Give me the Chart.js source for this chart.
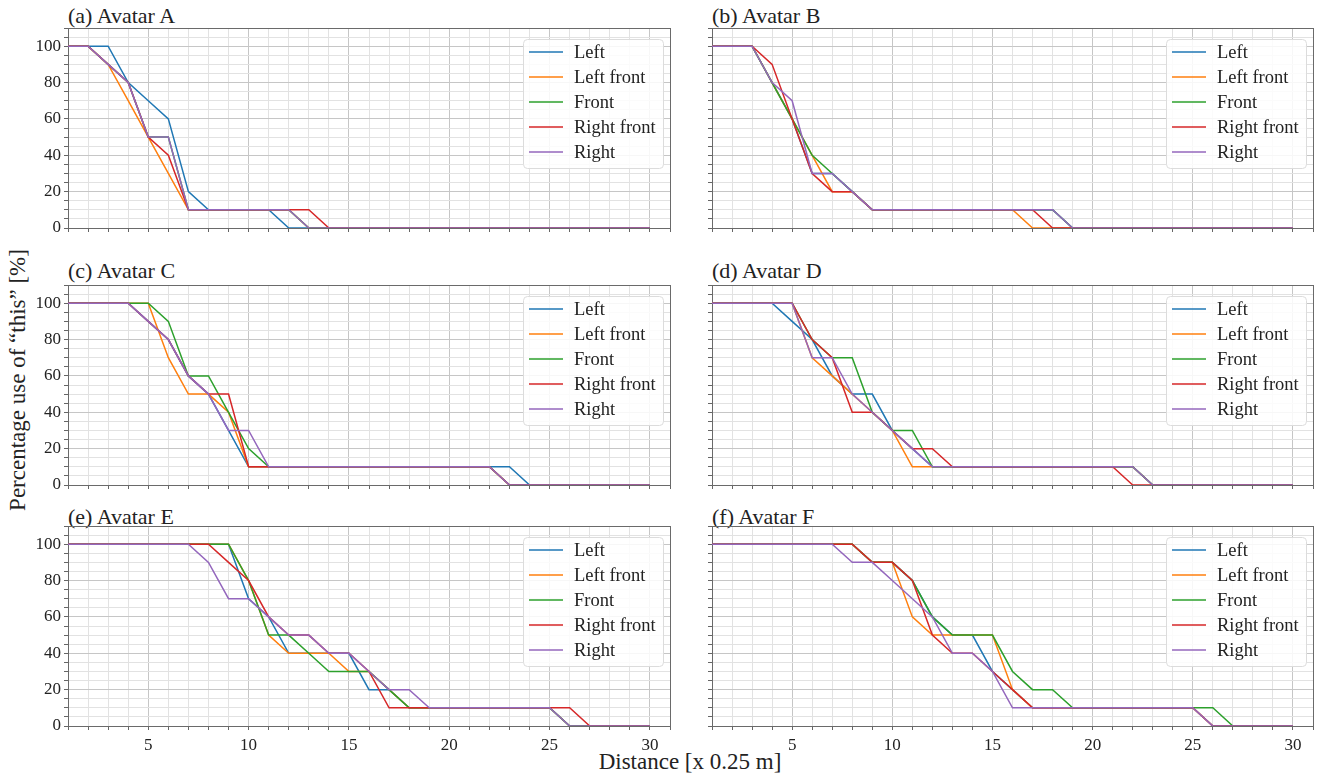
<!DOCTYPE html>
<html>
<head>
<meta charset="utf-8">
<script src="https://cdn.jsdelivr.net/npm/chart.js@4.4.0/dist/chart.umd.min.js"></script>
<style>
 body { margin: 0; background: #fff; width: 1319px; height: 776px; position: relative; overflow: hidden; font-family: "Liberation Serif", serif; color: #222; }
 canvas { position: absolute; }
 .ttl { position: absolute; font-size: 22px; line-height: 22px; white-space: nowrap; }
 #ylab { position: absolute; left: 18px; top: 380px; font-size: 23px; white-space: nowrap; transform: translate(-50%, -50%) rotate(-90deg); }
 #xlab { position: absolute; left: 690px; top: 762px; font-size: 23px; white-space: nowrap; transform: translate(-50%, -50%); }
</style>
</head>
<body>
<div class="ttl" style="left:68px;top:5px">(a) Avatar A</div>
<div class="ttl" style="left:712px;top:5px">(b) Avatar B</div>
<div class="ttl" style="left:68px;top:260px">(c) Avatar C</div>
<div class="ttl" style="left:712px;top:260px">(d) Avatar D</div>
<div class="ttl" style="left:68px;top:506px">(e) Avatar E</div>
<div class="ttl" style="left:712px;top:506px">(f) Avatar F</div>
<div id="ylab">Percentage use of “this” [%]</div>
<div id="xlab">Distance [x 0.25 m]</div>

<canvas id="chartA"></canvas>
<canvas id="chartB"></canvas>
<canvas id="chartC"></canvas>
<canvas id="chartD"></canvas>
<canvas id="chartE"></canvas>
<canvas id="chartF"></canvas>

<script>
// distance steps (x 0.25 m)
var distance = [1, 2, 3, 4, 5, 6, 7, 8, 9, 10, 11, 12, 13, 14, 15, 16, 17, 18, 19, 20, 21, 22, 23, 24, 25, 26, 27, 28, 29, 30];

var seriesNames = ["Left", "Left front", "Front", "Right front", "Right"];
var seriesColors = ["#1f77b4", "#ff7f0e", "#2ca02c", "#d62728", "#9467bd"];

var yTicks = [0, 20, 40, 60, 80, 100];
var xTicks = [5, 10, 15, 20, 25, 30];

// (a) Avatar A
var avatarA_left       = [100, 100, 100, 80, 70, 60, 20, 10, 10, 10, 10, 0, 0, 0, 0, 0, 0, 0, 0, 0, 0, 0, 0, 0, 0, 0, 0, 0, 0, 0];
var avatarA_leftFront  = [100, 100, 90, 70, 50, 30, 10, 10, 10, 10, 10, 10, 0, 0, 0, 0, 0, 0, 0, 0, 0, 0, 0, 0, 0, 0, 0, 0, 0, 0];
var avatarA_front      = [100, 100, 90, 80, 50, 50, 10, 10, 10, 10, 10, 10, 0, 0, 0, 0, 0, 0, 0, 0, 0, 0, 0, 0, 0, 0, 0, 0, 0, 0];
var avatarA_rightFront = [100, 100, 90, 80, 50, 40, 10, 10, 10, 10, 10, 10, 10, 0, 0, 0, 0, 0, 0, 0, 0, 0, 0, 0, 0, 0, 0, 0, 0, 0];
var avatarA_right      = [100, 100, 90, 80, 50, 50, 10, 10, 10, 10, 10, 10, 0, 0, 0, 0, 0, 0, 0, 0, 0, 0, 0, 0, 0, 0, 0, 0, 0, 0];

// (b) Avatar B
var avatarB_left       = [100, 100, 100, 80, 60, 30, 30, 20, 10, 10, 10, 10, 10, 10, 10, 10, 10, 10, 0, 0, 0, 0, 0, 0, 0, 0, 0, 0, 0, 0];
var avatarB_leftFront  = [100, 100, 100, 80, 60, 40, 20, 20, 10, 10, 10, 10, 10, 10, 10, 10, 0, 0, 0, 0, 0, 0, 0, 0, 0, 0, 0, 0, 0, 0];
var avatarB_front      = [100, 100, 100, 80, 60, 40, 30, 20, 10, 10, 10, 10, 10, 10, 10, 10, 10, 10, 0, 0, 0, 0, 0, 0, 0, 0, 0, 0, 0, 0];
var avatarB_rightFront = [100, 100, 100, 90, 60, 30, 20, 20, 10, 10, 10, 10, 10, 10, 10, 10, 10, 0, 0, 0, 0, 0, 0, 0, 0, 0, 0, 0, 0, 0];
var avatarB_right      = [100, 100, 100, 80, 70, 30, 30, 20, 10, 10, 10, 10, 10, 10, 10, 10, 10, 10, 0, 0, 0, 0, 0, 0, 0, 0, 0, 0, 0, 0];

// (c) Avatar C
var avatarC_left       = [100, 100, 100, 100, 90, 80, 60, 50, 30, 10, 10, 10, 10, 10, 10, 10, 10, 10, 10, 10, 10, 10, 10, 0, 0, 0, 0, 0, 0, 0];
var avatarC_leftFront  = [100, 100, 100, 100, 100, 70, 50, 50, 40, 10, 10, 10, 10, 10, 10, 10, 10, 10, 10, 10, 10, 10, 0, 0, 0, 0, 0, 0, 0, 0];
var avatarC_front      = [100, 100, 100, 100, 100, 90, 60, 60, 40, 20, 10, 10, 10, 10, 10, 10, 10, 10, 10, 10, 10, 10, 0, 0, 0, 0, 0, 0, 0, 0];
var avatarC_rightFront = [100, 100, 100, 100, 90, 80, 60, 50, 50, 10, 10, 10, 10, 10, 10, 10, 10, 10, 10, 10, 10, 10, 0, 0, 0, 0, 0, 0, 0, 0];
var avatarC_right      = [100, 100, 100, 100, 90, 80, 60, 50, 30, 30, 10, 10, 10, 10, 10, 10, 10, 10, 10, 10, 10, 10, 0, 0, 0, 0, 0, 0, 0, 0];

// (d) Avatar D
var avatarD_left       = [100, 100, 100, 100, 90, 80, 60, 50, 50, 30, 20, 10, 10, 10, 10, 10, 10, 10, 10, 10, 10, 10, 0, 0, 0, 0, 0, 0, 0, 0];
var avatarD_leftFront  = [100, 100, 100, 100, 100, 70, 60, 50, 40, 30, 10, 10, 10, 10, 10, 10, 10, 10, 10, 10, 10, 10, 0, 0, 0, 0, 0, 0, 0, 0];
var avatarD_front      = [100, 100, 100, 100, 100, 80, 70, 70, 40, 30, 30, 10, 10, 10, 10, 10, 10, 10, 10, 10, 10, 10, 0, 0, 0, 0, 0, 0, 0, 0];
var avatarD_rightFront = [100, 100, 100, 100, 100, 80, 70, 40, 40, 30, 20, 20, 10, 10, 10, 10, 10, 10, 10, 10, 10, 0, 0, 0, 0, 0, 0, 0, 0, 0];
var avatarD_right      = [100, 100, 100, 100, 100, 70, 70, 50, 40, 30, 20, 10, 10, 10, 10, 10, 10, 10, 10, 10, 10, 10, 0, 0, 0, 0, 0, 0, 0, 0];

// (e) Avatar E
var avatarE_left       = [100, 100, 100, 100, 100, 100, 100, 100, 100, 70, 60, 40, 40, 40, 40, 20, 20, 10, 10, 10, 10, 10, 10, 10, 10, 0, 0, 0, 0, 0];
var avatarE_leftFront  = [100, 100, 100, 100, 100, 100, 100, 100, 100, 80, 50, 40, 40, 40, 30, 30, 20, 10, 10, 10, 10, 10, 10, 10, 10, 0, 0, 0, 0, 0];
var avatarE_front      = [100, 100, 100, 100, 100, 100, 100, 100, 100, 80, 50, 50, 40, 30, 30, 30, 20, 10, 10, 10, 10, 10, 10, 10, 10, 0, 0, 0, 0, 0];
var avatarE_rightFront = [100, 100, 100, 100, 100, 100, 100, 100, 90, 80, 60, 50, 50, 40, 40, 30, 10, 10, 10, 10, 10, 10, 10, 10, 10, 10, 0, 0, 0, 0];
var avatarE_right      = [100, 100, 100, 100, 100, 100, 100, 90, 70, 70, 60, 50, 50, 40, 40, 30, 20, 20, 10, 10, 10, 10, 10, 10, 10, 0, 0, 0, 0, 0];

// (f) Avatar F
var avatarF_left       = [100, 100, 100, 100, 100, 100, 100, 100, 90, 90, 80, 60, 50, 50, 30, 20, 10, 10, 10, 10, 10, 10, 10, 10, 10, 0, 0, 0, 0, 0];
var avatarF_leftFront  = [100, 100, 100, 100, 100, 100, 100, 100, 90, 90, 60, 50, 50, 50, 50, 20, 10, 10, 10, 10, 10, 10, 10, 10, 10, 0, 0, 0, 0, 0];
var avatarF_front      = [100, 100, 100, 100, 100, 100, 100, 100, 90, 90, 80, 60, 50, 50, 50, 30, 20, 20, 10, 10, 10, 10, 10, 10, 10, 10, 0, 0, 0, 0];
var avatarF_rightFront = [100, 100, 100, 100, 100, 100, 100, 100, 90, 90, 80, 50, 40, 40, 30, 20, 10, 10, 10, 10, 10, 10, 10, 10, 10, 0, 0, 0, 0, 0];
var avatarF_right      = [100, 100, 100, 100, 100, 100, 100, 90, 90, 80, 70, 60, 40, 40, 30, 10, 10, 10, 10, 10, 10, 10, 10, 10, 10, 0, 0, 0, 0, 0];

Chart.defaults.font.family = "'Liberation Serif', 'Times New Roman', serif";
Chart.defaults.color = "#222";

var cols = [{ left: 68, right: 670, yW: 45 }, { left: 712, right: 1313, yW: 6 }];
var rows = [{ top: 28, bottom: 228, xH: 6 }, { top: 285, bottom: 485, xH: 6 }, { top: 526, bottom: 726, xH: 32 }];
var padTop = 5, padRight = 5;

var minorGrid = "#e2e2e2";
var majorGrid = "#c6c6c6";

// box round the plot area (matplotlib style spines)
var framePlugin = {
 id: "frame",
 beforeDatasetsDraw: function (chart) {
  var a = chart.chartArea, ctx = chart.ctx;
  ctx.save();
  ctx.strokeStyle = "#6a6a6a";
  ctx.lineWidth = 1;
  ctx.strokeRect(Math.round(a.left) + 0.5, Math.round(a.top) + 0.5, Math.round(a.right - a.left), Math.round(a.bottom - a.top));
  ctx.restore();
 },
};

// legend in upper right of the plot area
var legendPlugin = {
 id: "innerLegend",
 afterDraw: function (chart) {
  var a = chart.chartArea, ctx = chart.ctx;
  var w = 140, h = 129, rowH = 25;
  var x = a.right - 7 - w, y = a.top + 11;
  ctx.save();
  ctx.fillStyle = "rgba(255,255,255,0.85)";
  ctx.strokeStyle = "#dcdcdc";
  ctx.lineWidth = 1;
  ctx.beginPath();
  ctx.roundRect(x + 0.5, y + 0.5, w, h, 4);
  ctx.fill();
  ctx.stroke();
  ctx.font = "18.5px 'Liberation Serif', serif";
  ctx.textBaseline = "middle";
  chart.data.datasets.forEach(function (ds, i) {
   var cy = y + 13 + i * rowH;
   ctx.strokeStyle = ds.borderColor;
   ctx.lineWidth = 1.5;
   ctx.beginPath();
   ctx.moveTo(x + 6, cy);
   ctx.lineTo(x + 40, cy);
   ctx.stroke();
   ctx.fillStyle = "#222";
   ctx.fillText(ds.label, x + 51, cy + 1);
  });
  ctx.restore();
 },
};

function makePanel(id, colIdx, rowIdx, series) {
 var c = cols[colIdx], r = rows[rowIdx];
 var showY = colIdx === 0;
 var showX = rowIdx === 2;
 var canvas = document.getElementById(id);
 canvas.width = c.yW + (c.right - c.left) + padRight;
 canvas.height = padTop + (r.bottom - r.top) + r.xH;
 canvas.style.left = c.left - c.yW + "px";
 canvas.style.top = r.top - padTop + "px";

 var datasets = series.map(function (values, i) {
  return {
   label: seriesNames[i],
   data: values.map(function (v, k) {
    return { x: distance[k], y: v };
   }),
   borderColor: seriesColors[i],
   backgroundColor: seriesColors[i],
   borderWidth: 1.5,
   pointRadius: 0,
   tension: 0,
   order: series.length - 1 - i,
  };
 });

 new Chart(canvas, {
  type: "line",
  data: { datasets: datasets },
  options: {
   responsive: false,
   animation: false,
   events: [],
   layout: { autoPadding: false, padding: { top: padTop, right: padRight, left: 0, bottom: 0 } },
   plugins: { legend: { display: false }, tooltip: { enabled: false } },
   scales: {
    x: {
     type: "linear",
     min: 1,
     max: 31,
     afterFit: function (s) {
      s.height = r.xH;
      s.paddingLeft = 0;
      s.paddingRight = 0;
     },
     ticks: {
      stepSize: 1,
      maxTicksLimit: 100,
      autoSkip: false,
      maxRotation: 0,
      padding: 5,
      font: { size: 17 },
      color: "#222",
      callback: function (v) {
       return showX && xTicks.indexOf(v) >= 0 ? String(v) : "";
      },
     },
     grid: {
      color: function (ctx) {
       return ctx.tick && ctx.tick.value % 5 === 0 ? majorGrid : minorGrid;
      },
      tickColor: "#666",
      tickLength: 4,
     },
     border: { display: false },
    },
    y: {
     min: 0,
     max: 110,
     afterFit: function (s) {
      s.width = c.yW;
      s.paddingTop = 0;
      s.paddingBottom = 0;
     },
     ticks: {
      stepSize: 5,
      maxTicksLimit: 100,
      autoSkip: false,
      padding: 3,
      font: { size: 17 },
      color: "#222",
      callback: function (v) {
       return showY && yTicks.indexOf(v) >= 0 ? String(v) : "";
      },
     },
     grid: {
      color: function (ctx) {
       return ctx.tick && ctx.tick.value % 20 === 0 ? majorGrid : minorGrid;
      },
      tickColor: "#666",
      tickLength: 4,
     },
     border: { display: false },
    },
   },
  },
  plugins: [framePlugin, legendPlugin],
 });
}

makePanel("chartA", 0, 0, [avatarA_left, avatarA_leftFront, avatarA_front, avatarA_rightFront, avatarA_right]);
makePanel("chartB", 1, 0, [avatarB_left, avatarB_leftFront, avatarB_front, avatarB_rightFront, avatarB_right]);
makePanel("chartC", 0, 1, [avatarC_left, avatarC_leftFront, avatarC_front, avatarC_rightFront, avatarC_right]);
makePanel("chartD", 1, 1, [avatarD_left, avatarD_leftFront, avatarD_front, avatarD_rightFront, avatarD_right]);
makePanel("chartE", 0, 2, [avatarE_left, avatarE_leftFront, avatarE_front, avatarE_rightFront, avatarE_right]);
makePanel("chartF", 1, 2, [avatarF_left, avatarF_leftFront, avatarF_front, avatarF_rightFront, avatarF_right]);
</script>
</body>
</html>
